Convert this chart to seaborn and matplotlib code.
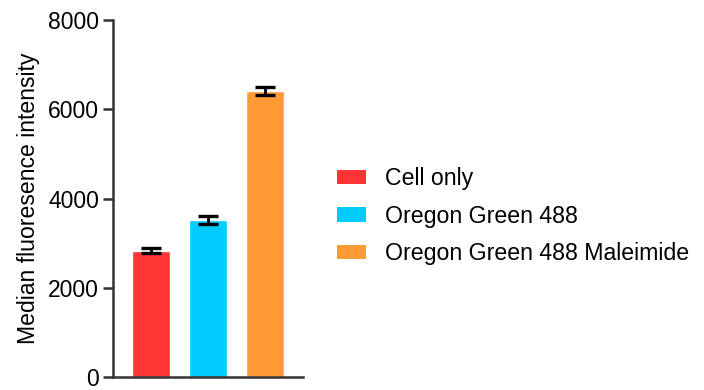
import matplotlib
matplotlib.use("Agg")
import matplotlib.pyplot as plt
import seaborn as sns
import pandas as pd

groups = ["Cell only", "Oregon Green 488", "Oregon Green 488 Maleimide"]
mfi_mean = [2830, 3520, 6400]
mfi_err = [50, 80, 90]
bar_colors = ["#FF3535", "#00CCFF", "#FF9A35"]
y_ticks = [0, 2000, 4000, 6000, 8000]

sns.set_style("ticks")
plt.rcParams["font.family"] = ["Liberation Sans", "DejaVu Sans"]
plt.rcParams["text.color"] = "black"

df = pd.DataFrame({"group": groups, "mfi": mfi_mean})

fig = plt.figure(figsize=(7.04, 3.90), dpi=100)
ax = fig.add_axes([0.1605, 0.0333, 0.2699, 0.9154])

sns.barplot(data=df, x="group", y="mfi", hue="group", palette=bar_colors,
            order=groups, hue_order=groups, width=0.667, dodge=False,
            errorbar=None, legend=False, ax=ax, saturation=1)
ax.errorbar(range(len(groups)), mfi_mean, yerr=mfi_err, fmt="none",
            ecolor="black", elinewidth=2, capsize=7, capthick=2.4, zorder=5)

ax.set_xlim(-0.667, 2.667)
ax.set_ylim(0, 8000)
ax.set_yticks(y_ticks)
ax.set_yticklabels([str(t) for t in y_ticks], fontsize=16.5, color="black")
ax.set_xticks([])
ax.set_xlabel("")
ax.set_ylabel("Median fluoresence intensity", fontsize=16.6, labelpad=6, color="black")
ax.tick_params(axis="y", length=7, width=1.8, color="#333333", pad=3)
for side in ("left", "bottom"):
    ax.spines[side].set_linewidth(1.8)
    ax.spines[side].set_color("#333333")
sns.despine(ax=ax)

handles = [plt.Rectangle((0, 0), 1, 1, facecolor=c, edgecolor="none") for c in bar_colors]
fig.legend(handles, groups, loc="center left", bbox_to_anchor=(0.466, 0.446),
           frameon=False, fontsize=16.7, handlelength=1.25, handleheight=0.58,
           labelspacing=0.62, handletextpad=0.82, borderaxespad=0,
           labelcolor="black")

fig.savefig("out.png", dpi=100)
